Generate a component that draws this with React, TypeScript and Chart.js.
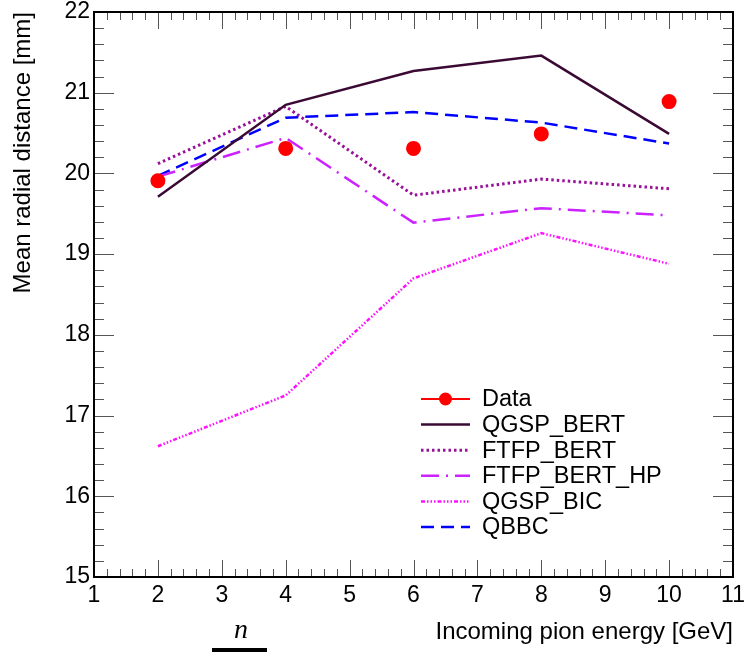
import React, { useEffect, useRef } from 'react';
import { Chart, registerables } from 'chart.js';

Chart.register(...registerables);

const energies = [2, 4, 6, 8, 10];
const dataValues = [19.91, 20.31, 20.31, 20.49, 20.89];
const qgspBert = [19.71, 20.85, 21.27, 21.46, 20.49];
const ftfpBert = [20.12, 20.83, 19.73, 19.93, 19.81];
const ftfpBertHp = [19.96, 20.44, 19.39, 19.57, 19.48];
const qgspBic = [16.62, 17.25, 18.7, 19.26, 18.88];
const qbbc = [19.97, 20.69, 20.76, 20.63, 20.37];

const seriesNames = ['Data', 'QGSP_BERT', 'FTFP_BERT', 'FTFP_BERT_HP', 'QGSP_BIC', 'QBBC'];
const xTickValues = [1, 2, 3, 4, 5, 6, 7, 8, 9, 10, 11];
const yTickValues = [15, 16, 17, 18, 19, 20, 21, 22];
const xTitle = 'Incoming pion energy [GeV]';
const yTitle = 'Mean radial distance [mm]';

const FONT = '"Liberation Sans", Arial, Helvetica, sans-serif';

const pts = (vals: number[]) => energies.map((e, i) => ({ x: e, y: vals[i] }));

const frameTicksPlugin = {
  id: 'frameTicks',
  afterDraw(chart: any) {
    const { ctx, chartArea: ca } = chart;
    const xs = chart.scales.x;
    const ys = chart.scales.y;
    ctx.save();
    ctx.strokeStyle = '#555';
    ctx.lineWidth = 1;
    ctx.beginPath();
    const xMin = xTickValues[0];
    const xMax = xTickValues[xTickValues.length - 1];
    const nx = Math.round((xMax - xMin) * 5);
    for (let i = 0; i <= nx; i++) {
      const v = xMin + i * 0.2;
      const major = i % 5 === 0;
      const len = major ? 17 : 8;
      const px = Math.round(xs.getPixelForValue(v)) + 0.5;
      ctx.moveTo(px, ca.bottom);
      ctx.lineTo(px, ca.bottom - len);
      ctx.moveTo(px, ca.top);
      ctx.lineTo(px, ca.top + len);
    }
    const yMin = yTickValues[0];
    const yMax = yTickValues[yTickValues.length - 1];
    const ny = Math.round((yMax - yMin) * 5);
    for (let i = 0; i <= ny; i++) {
      const v = yMin + i * 0.2;
      const major = i % 5 === 0;
      const len = major ? 20 : 10;
      const py = Math.round(ys.getPixelForValue(v)) + 0.5;
      ctx.moveTo(ca.left, py);
      ctx.lineTo(ca.left + len, py);
      ctx.moveTo(ca.right, py);
      ctx.lineTo(ca.right - len, py);
    }
    ctx.stroke();
    ctx.strokeStyle = '#000';
    ctx.lineWidth = 2;
    ctx.strokeRect(ca.left, ca.top, ca.right - ca.left, ca.bottom - ca.top);

    // stray glyph below the axis
    ctx.fillStyle = '#000';
    ctx.font = 'italic 28px "Liberation Serif", "DejaVu Serif", serif';
    ctx.textAlign = 'center';
    ctx.textBaseline = 'alphabetic';
    ctx.fillText('n', 241, 638);
    ctx.fillRect(212, 648, 55, 4);
    ctx.restore();
  },
};

const legendPlugin = {
  id: 'rootLegend',
  afterDatasetsDraw(chart: any) {
    const { ctx, chartArea: ca } = chart;
    const x0 = ca.left + 327;
    const x1 = ca.left + 376;
    const tx = ca.left + 388;
    let y = ca.top + 387;
    ctx.save();
    chart.data.datasets.forEach((ds: any) => {
      ctx.strokeStyle = ds.borderColor;
      ctx.lineWidth = ds.borderWidth;
      ctx.setLineDash(ds.borderDash || []);
      ctx.beginPath();
      ctx.moveTo(x0, y);
      ctx.lineTo(x1, y);
      ctx.stroke();
      ctx.setLineDash([]);
      if (ds.pointRadius > 0) {
        ctx.fillStyle = ds.pointBackgroundColor;
        ctx.beginPath();
        ctx.arc((x0 + x1) / 2, y, ds.pointRadius, 0, Math.PI * 2);
        ctx.fill();
      }
      ctx.font = `23.5px ${FONT}`;
      ctx.fillStyle = '#000';
      ctx.textAlign = 'left';
      ctx.textBaseline = 'middle';
      ctx.fillText(ds.label, tx, y + 1);
      y += 25.6;
    });
    ctx.restore();
  },
};

function App() {
  const ref = useRef<HTMLCanvasElement | null>(null);

  useEffect(() => {
    if (!ref.current) return;
    const lineDs = (label: string, vals: number[], color: string, dash: number[], width: number) => ({
      label,
      data: pts(vals),
      borderColor: color,
      backgroundColor: color,
      borderWidth: width,
      borderDash: dash,
      pointRadius: 0,
      pointHoverRadius: 0,
      showLine: true,
      fill: false,
      tension: 0,
    });
    const chart = new Chart(ref.current, {
      type: 'scatter',
      data: {
        datasets: [
          {
            label: seriesNames[0],
            data: pts(dataValues),
            borderColor: '#ff0000',
            backgroundColor: '#ff0000',
            pointBackgroundColor: '#ff0000',
            pointBorderColor: '#ff0000',
            borderWidth: 2,
            pointRadius: 6.5,
            showLine: false,
          } as any,
          lineDs(seriesNames[1], qgspBert, '#3a0a34', [], 2.5),
          lineDs(seriesNames[2], ftfpBert, '#99119a', [2.5, 3], 3),
          lineDs(seriesNames[3], ftfpBertHp, '#cc22ff', [18, 7, 2, 7], 2.5),
          lineDs(seriesNames[4], qgspBic, '#ff11ff', [4, 2, 1.5, 2, 1.5, 2, 1.5, 2], 2.5),
          lineDs(seriesNames[5], qbbc, '#0000ff', [13, 7], 2.5),
        ],
      },
      options: {
        responsive: false,
        animation: false,
        events: [],
        layout: { padding: { top: 12, right: 13, left: 0, bottom: 0 } },
        plugins: {
          legend: { display: false },
          tooltip: { enabled: false },
        },
        scales: {
          x: {
            type: 'linear',
            min: xTickValues[0],
            max: xTickValues[xTickValues.length - 1],
            grid: { display: false, drawTicks: false },
            border: { display: false },
            afterBuildTicks: (scale: any) => {
              scale.ticks = xTickValues.map((v) => ({ value: v }));
            },
            ticks: {
              color: '#000',
              font: { family: FONT, size: 23, lineHeight: 1 },
              padding: 7,
              maxRotation: 0,
              autoSkip: false,
            },
            title: {
              display: true,
              text: xTitle,
              align: 'end',
              color: '#000',
              font: { family: FONT, size: 24, lineHeight: 1.2 },
              padding: { top: 5, bottom: 5 },
            },
            afterFit: (scale: any) => {
              scale.height = 75;
              scale.paddingLeft = 0;
              scale.paddingRight = 0;
            },
          },
          y: {
            type: 'linear',
            min: yTickValues[0],
            max: yTickValues[yTickValues.length - 1],
            grid: { display: false, drawTicks: false },
            border: { display: false },
            afterBuildTicks: (scale: any) => {
              scale.ticks = yTickValues.map((v) => ({ value: v }));
            },
            ticks: {
              color: '#000',
              font: { family: FONT, size: 23, lineHeight: 1 },
              padding: 4,
              autoSkip: false,
            },
            title: {
              display: true,
              text: yTitle,
              align: 'end',
              color: '#000',
              font: { family: FONT, size: 24, lineHeight: 1.2 },
              padding: { top: 9, bottom: 9 },
            },
            afterFit: (scale: any) => {
              scale.width = 94;
              scale.paddingTop = 0;
              scale.paddingBottom = 0;
            },
          },
        },
      } as any,
      plugins: [legendPlugin, frameTicksPlugin],
    });
    return () => chart.destroy();
  }, []);

  return (
    <div style={{ position: 'fixed', left: 0, top: 0, width: 746, height: 652, background: '#fff' }}>
      <canvas ref={ref} width={746} height={652} style={{ display: 'block', width: 746, height: 652 }} />
    </div>
  );
}

export default App;
